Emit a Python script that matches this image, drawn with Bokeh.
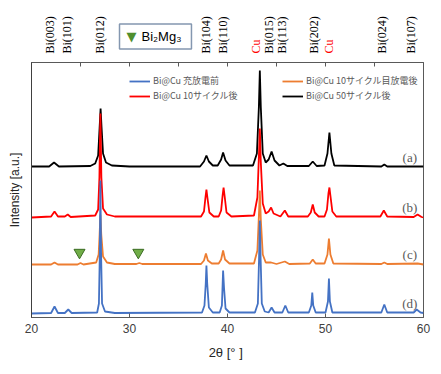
from math import pi
from bokeh.plotting import figure
from bokeh.layouts import column
from bokeh.models import (Range1d, LinearAxis, FixedTicker, Legend, LegendItem,
                          LabelSet, Label, ColumnDataSource, CustomJSTickFormatter)
from bokeh.embed import file_html
from bokeh.resources import INLINE

# ---- data (2theta in degrees, intensity in arbitrary units above each baseline) ----
X_A = [20.0, 21.8, 22.3, 22.8, 26.0, 26.5, 26.8, 26.95, 27.05, 27.15, 27.3, 27.6, 28.2, 30.0,
       37.2, 37.6, 37.85, 38.1, 38.5, 39.0, 39.35, 39.55, 39.8, 40.2,
       42.6, 43.0, 43.2, 43.3, 43.4, 43.6, 43.9, 44.2, 44.5, 44.8, 45.3, 45.7, 46.1,
       48.3, 48.7, 49.1, 49.9, 50.2, 50.4, 50.6, 50.9, 55.7, 56.0, 56.3, 60.0]
Y_A = [1, 1, 5, 1, 1.5, 4, 12, 40, 59, 40, 14, 5, 2, 1,
       1, 6, 12, 6, 2, 2, 8, 15, 7, 2,
       2, 14, 60, 97, 60, 14, 5, 8, 16, 7, 2, 4, 1.5,
       1.5, 6, 1.5, 2, 14, 35, 14, 2, 1, 3, 1, 1]

X_B = [20.0, 22.0, 22.35, 22.7, 23.4, 23.7, 24.0, 26.5, 26.8, 26.93, 27.03, 27.13, 27.3, 27.7, 28.5,
       37.3, 37.6, 37.75, 37.85, 37.95, 38.15, 38.6, 39.1, 39.35, 39.5, 39.6, 39.7, 39.9, 40.4,
       42.7, 43.05, 43.2, 43.3, 43.4, 43.6, 43.9, 44.2, 44.45, 44.7, 45.4, 45.85, 46.2,
       48.2, 48.5, 48.7, 48.9, 49.3, 49.9, 50.15, 50.3, 50.4, 50.5, 50.7, 51.1,
       55.6, 55.95, 56.3, 59.0, 59.4, 59.8, 60.0]
Y_B = [0, 1, 6, 1, 1, 3, 0.5, 2, 8, 40, 104, 40, 9, 3, 1,
       1, 6, 20, 28, 20, 5, 1, 1, 7, 22, 30, 22, 5, 1,
       2, 20, 60, 89, 55, 14, 4, 6, 10, 4, 1, 7, 1,
       1, 5, 13, 5, 1, 1, 8, 24, 30, 22, 6, 1,
       1, 7, 1, 0.5, 3, 0.5, 0]

X_C = [20.0, 22.0, 22.35, 22.7, 24.7, 25.0, 25.3, 26.6, 26.85, 26.95, 27.03, 27.12, 27.3, 27.7, 28.5,
       30.7, 31.0, 31.3, 37.3, 37.6, 37.8, 38.0, 38.4, 39.1, 39.35, 39.55, 39.75, 40.2,
       42.7, 43.05, 43.2, 43.3, 43.4, 43.6, 43.9, 44.45, 45.0, 45.85, 46.3,
       48.4, 48.7, 49.0, 49.9, 50.2, 50.35, 50.5, 50.8, 55.7, 56.0, 56.3, 59.4, 60.0]
Y_C = [0, 0, 2, 0, 0, 1.5, 0, 2, 10, 30, 50, 30, 8, 2, 0.5,
       0.5, 1.5, 0.5, 0.5, 4, 11, 4, 1, 1, 5, 14, 5, 1,
       1, 14, 48, 74, 45, 10, 2, 2, 0.5, 3, 0.5,
       1, 5, 1, 1, 10, 26, 10, 1, 0.5, 2, 0.5, 1, 0]

X_D = [20.0, 22.0, 22.35, 22.7, 23.4, 23.75, 24.1, 26.7, 26.88, 26.97, 27.03, 27.1, 27.2, 27.5, 28.5,
       37.4, 37.65, 37.78, 37.85, 37.93, 38.1, 38.5, 39.2, 39.43, 39.55, 39.65, 39.8, 40.2,
       42.8, 43.1, 43.22, 43.3, 43.38, 43.5, 43.8, 44.2, 44.5, 44.8, 45.6, 45.9, 46.2,
       48.3, 48.55, 48.65, 48.75, 49.0, 50.0, 50.25, 50.35, 50.45, 50.7,
       55.7, 56.0, 56.3, 59.0, 59.3, 59.7, 60.0]
Y_D = [0, 0.5, 7, 0.5, 0.5, 4, 0.5, 1, 10, 60, 133, 60, 10, 2, 0.5,
       1, 8, 30, 48, 30, 6, 1, 1, 8, 43, 25, 5, 1,
       1, 10, 55, 93, 55, 10, 2, 1, 6, 1, 1, 8, 1,
       1, 8, 21, 8, 1, 1, 12, 35, 12, 1,
       1, 9, 1, 1, 4, 1, 0.5]

OFFSETS = [150, 100, 53, 4]          # (a), (b), (c), (d)
SERIES_NAMES = ["Bi@Cu 50サイクル後", "Bi@Cu 10サイクル後",
                "Bi@Cu 10サイクル目放電後", "Bi@Cu 充放電前"]
SERIES_COLORS = ["#000000", "#FF0000", "#ED7D31", "#4472C4"]
SERIES_TAGS = ["(a)", "(b)", "(c)", "(d)"]
TAG_X = [58.6, 58.6, 58.6, 58.6]

PEAK_POS = [21.9, 23.6, 27.0, 37.8, 39.5, 42.9, 44.2, 45.6, 48.8, 50.4, 55.8, 58.7]
PEAK_TEXT = ["Bi(003)", "Bi(101)", "Bi(012)", "Bi(104)", "Bi(110)", "Cu", "Bi(015)",
             "Bi(113)", "Bi(202)", "Cu", "Bi(024)", "Bi(107)"]
PEAK_COLOR = ["#000000"] * 5 + ["#FF0000"] + ["#000000"] * 3 + ["#FF0000"] + ["#000000"] * 2

MG_X = [24.9, 30.9]
MG_Y = [65, 65]

X_TICKS = [20, 30, 40, 50, 60]
TOP_TICKS = [20, 25, 30, 35, 40, 45, 50, 55, 60]

FONT = "Liberation Sans"
JP = "Noto Sans CJK JP"

xr = Range1d(20, 60)

# ---------- header strip (peak assignments + Bi2Mg3 key) ----------
head = figure(width=441, height=62, output_backend="svg", toolbar_location=None,
              x_range=xr, y_range=Range1d(0, 62),
              min_border_left=31, min_border_right=18, min_border_top=0, min_border_bottom=0)
head.axis.visible = False
head.grid.visible = False
head.outline_line_color = None
head.background_fill_color = "white"
head.border_fill_color = "white"

pk_src = ColumnDataSource(dict(x=PEAK_POS, y=[9] * len(PEAK_POS), t=PEAK_TEXT, c=PEAK_COLOR))
head.add_layout(LabelSet(x="x", y="y", text="t", source=pk_src, text_color="c",
                         angle=pi / 2, text_font=FONT, text_font_size="12px",
                         text_align="left", text_baseline="middle"))

head.add_layout(Label(x=28.98, y=26, text="Bi₂Mg₃", text_font=FONT, text_font_size="13px",
                      text_color="#000000", text_baseline="middle", text_align="left",
                      border_line_color="#8497B0", border_line_width=1.5,
                      background_fill_color="white",
                      padding=dict(left=22, right=10, top=5, bottom=5)))
head.add_layout(Label(x=30.2, y=26, text="▼", text_font="DejaVu Sans", text_font_size="13px",
                      text_color="#4F8F2F", text_baseline="middle", text_align="center"))

# ---------- main plot ----------
p = figure(width=441, height=312, output_backend="svg", toolbar_location=None,
           x_range=xr, y_range=Range1d(0, 255),
           min_border_left=31, min_border_right=18, min_border_top=0, min_border_bottom=57)
p.grid.visible = False
p.outline_line_color = "#595959"
p.outline_line_width = 1
p.background_fill_color = "white"
p.border_fill_color = "white"

xa = p.xaxis[0]
xa.ticker = FixedTicker(ticks=X_TICKS)
xa.major_tick_out = 0
xa.major_tick_in = 4
xa.major_tick_line_color = "#595959"
xa.minor_tick_line_color = None
xa.axis_line_color = "#595959"
xa.major_label_text_font = FONT
xa.major_label_text_font_size = "12px"
xa.major_label_text_color = "#404040"
xa.major_label_standoff = 6
xa.axis_label = "2θ [°  ]"
xa.axis_label_text_font = FONT
xa.axis_label_text_font_size = "13px"
xa.axis_label_text_font_style = "normal"
xa.axis_label_text_color = "#262626"
xa.axis_label_standoff = 9

ya = p.yaxis[0]
ya.ticker = FixedTicker(ticks=[])
ya.major_tick_out = 0
ya.major_tick_in = 0
ya.minor_tick_line_color = None
ya.major_label_standoff = 0
ya.axis_line_color = "#404040"
ya.axis_label = "Intensity [a.u.]"
ya.axis_label_text_font = FONT
ya.axis_label_text_font_size = "12px"
ya.axis_label_text_font_style = "normal"
ya.axis_label_text_color = "#262626"
ya.axis_label_standoff = 10

top = LinearAxis(ticker=FixedTicker(ticks=TOP_TICKS),
                 formatter=CustomJSTickFormatter(code="return ''"),
                 major_tick_in=4, major_tick_out=0, minor_tick_line_color=None,
                 axis_line_color="#595959", major_tick_line_color="#595959",
                 major_label_standoff=0)
p.add_layout(top, "above")

xs = [X_A, X_B, X_C, X_D]
ys = [Y_A, Y_B, Y_C, Y_D]
renderers = []
for x, y, off, col in zip(xs, ys, OFFSETS, SERIES_COLORS):
    r = p.line(x, [v + off for v in y], line_color=col, line_width=1.8)
    renderers.append(r)

p.scatter(MG_X, MG_Y, marker="inverted_triangle", size=11,
          fill_color="#70AD47", line_color="#3A6B22", line_width=1)

tag_src = ColumnDataSource(dict(x=TAG_X, y=[o + 10 for o in OFFSETS], t=SERIES_TAGS))
p.add_layout(LabelSet(x="x", y="y", text="t", source=tag_src, text_font=FONT,
                      text_font_size="13px", text_color="#595959",
                      text_align="center", text_baseline="middle"))

leg1 = Legend(items=[LegendItem(label=SERIES_NAMES[3], renderers=[renderers[3]]),
                     LegendItem(label=SERIES_NAMES[1], renderers=[renderers[1]])],
              location=(98, 215))
leg2 = Legend(items=[LegendItem(label=SERIES_NAMES[2], renderers=[renderers[2]]),
                     LegendItem(label=SERIES_NAMES[0], renderers=[renderers[0]])],
              location=(251, 215))
for lg in (leg1, leg2):
    lg.border_line_color = None
    lg.background_fill_alpha = 0
    lg.padding = 0
    lg.margin = 0
    lg.spacing = 2
    lg.glyph_width = 21
    lg.glyph_height = 12
    lg.label_height = 12
    lg.label_standoff = 3
    lg.label_text_font = JP
    lg.label_text_font_size = "9px"
    lg.label_text_color = "#595959"
    p.add_layout(lg)

open("out.html", "w").write(file_html(column(head, p, spacing=0), INLINE))
